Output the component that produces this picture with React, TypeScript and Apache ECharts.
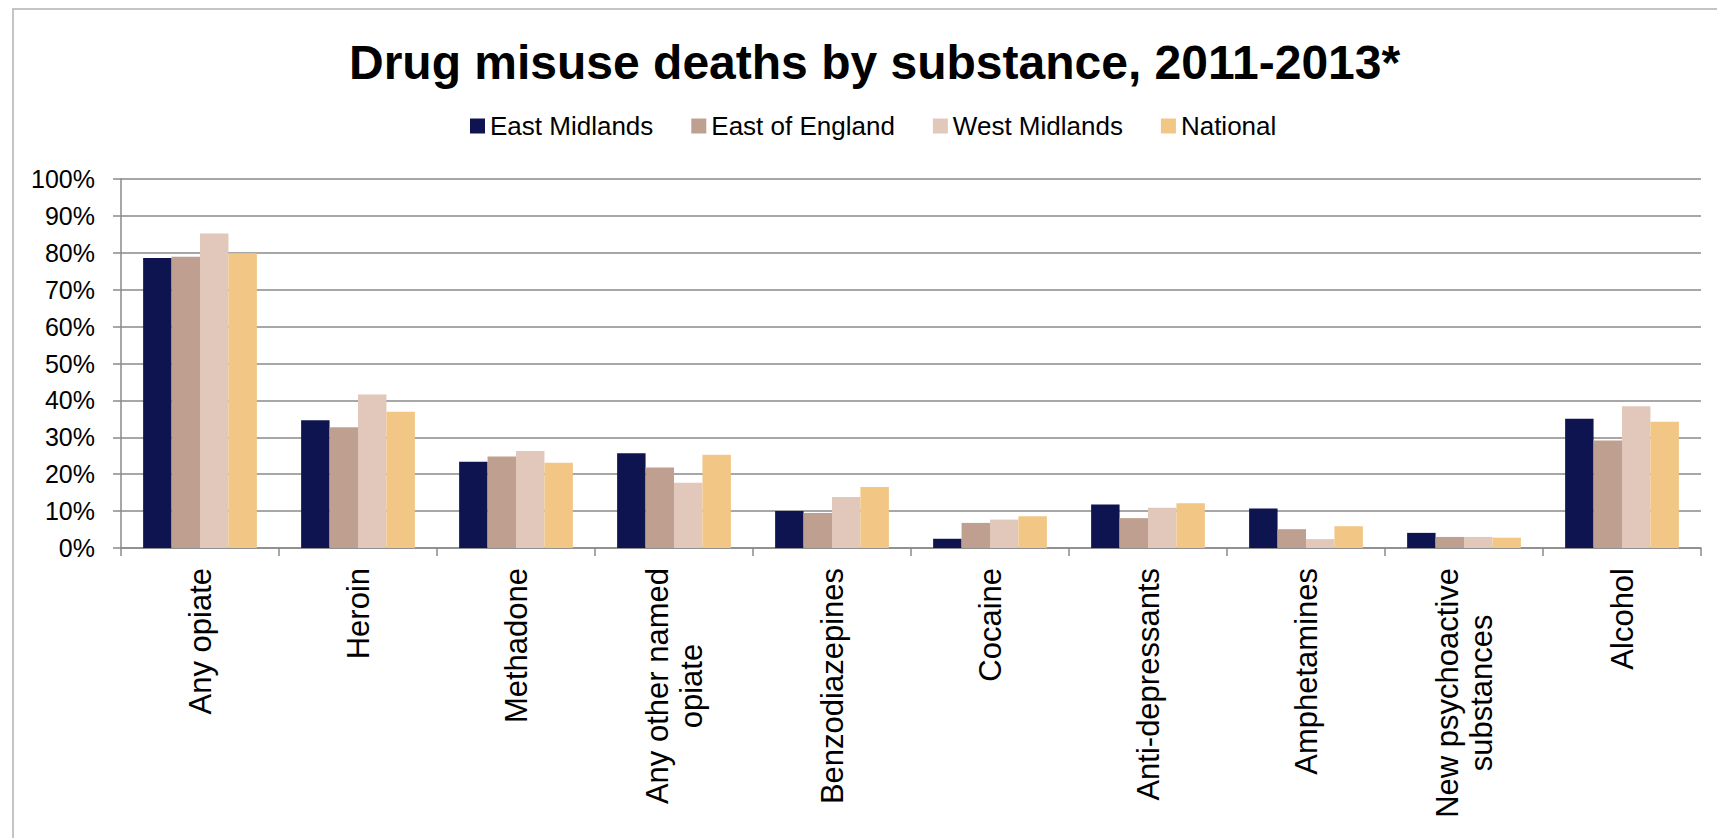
import React, { useEffect, useRef } from "react";
import * as echarts from "echarts";

// Share of drug misuse deaths mentioning each substance (%), 2011-2013
const categories = [
  "Any opiate",
  "Heroin",
  "Methadone",
  "Any other named\nopiate",
  "Benzodiazepines",
  "Cocaine",
  "Anti-depressants",
  "Amphetamines",
  "New psychoactive\nsubstances",
  "Alcohol",
];

const eastMidlands = [78.6, 34.6, 23.4, 25.7, 10.0, 2.5, 11.8, 10.7, 4.1, 35.0];
const eastOfEngland = [78.9, 32.7, 24.8, 21.8, 9.5, 6.8, 8.1, 5.1, 3.0, 29.1];
const westMidlands = [85.2, 41.6, 26.3, 17.7, 13.8, 7.7, 10.9, 2.4, 3.0, 38.4];
const national = [79.9, 36.9, 23.1, 25.3, 16.5, 8.6, 12.1, 5.9, 2.8, 34.2];

const seriesNames = ["East Midlands", "East of England", "West Midlands", "National"];
const seriesColors = ["#0e1450", "#bfa090", "#e2c7bb", "#f2c684"];

const FONT = "'Liberation Sans', Arial, Helvetica, sans-serif";
const AXIS_GREY = "#8a8a8a";

export default function App() {
  const ref = useRef<HTMLDivElement>(null);

  useEffect(() => {
    if (!ref.current) return;
    const chart = echarts.init(ref.current, undefined, { renderer: "svg" });

    const values = [eastMidlands, eastOfEngland, westMidlands, national];

    chart.setOption({
      animation: false,
      backgroundColor: "#ffffff",
      title: {
        text: "Drug misuse deaths by substance, 2011-2013*",
        left: 344,
        top: 33,
        textStyle: {
          fontFamily: FONT,
          fontSize: 48,
          fontWeight: "bold",
          color: "#000000",
        },
      },
      legend: {
        data: seriesNames,
        left: 465,
        top: 108,
        icon: "rect",
        itemWidth: 15,
        itemHeight: 15,
        itemGap: 38,
        textStyle: { fontFamily: FONT, fontSize: 26, color: "#000000" },
      },
      graphic: [
        {
          type: "rect",
          silent: true,
          shape: { x: 13, y: 9, width: 1800, height: 1000 },
          style: { fill: "none", stroke: "#c4c4c4", lineWidth: 2 },
        },
      ],
      grid: { left: 121, right: 16, top: 179, bottom: 290, containLabel: false },
      xAxis: {
        type: "category",
        data: categories,
        boundaryGap: true,
        axisLine: { lineStyle: { color: AXIS_GREY, width: 1.5 } },
        axisTick: { show: true, length: 8, lineStyle: { color: AXIS_GREY, width: 1.5 } },
        axisLabel: {
          interval: 0,
          rotate: 90,
          margin: 20,
          fontFamily: FONT,
          fontSize: 31,
          color: "#000000",
          formatter: (v: string) =>
            v
              .split("\n")
              .map((line) => `{c|${line}}`)
              .join("\n"),
          rich: {
            c: {
              align: "center",
              fontFamily: FONT,
              fontSize: 31,
              color: "#000000",
              lineHeight: 34,
            },
          },
        },
      },
      yAxis: {
        type: "value",
        min: 0,
        max: 100,
        interval: 10,
        axisLine: { show: true, lineStyle: { color: AXIS_GREY, width: 1.5 } },
        axisTick: { show: true, length: 8, lineStyle: { color: AXIS_GREY, width: 1.5 } },
        splitLine: { lineStyle: { color: AXIS_GREY, width: 1.5 } },
        axisLabel: {
          margin: 26,
          fontFamily: FONT,
          fontSize: 25,
          color: "#000000",
          formatter: "{value}%",
        },
      },
      series: seriesNames.map((name, i) => ({
        name,
        type: "bar",
        data: values[i],
        barGap: "0%",
        barCategoryGap: "28%",
        itemStyle: { color: seriesColors[i] },
      })),
    });

    return () => chart.dispose();
  }, []);

  return (
    <div
      ref={ref}
      style={{ position: "absolute", left: 0, top: 0, width: 1717, height: 838 }}
    />
  );
}
